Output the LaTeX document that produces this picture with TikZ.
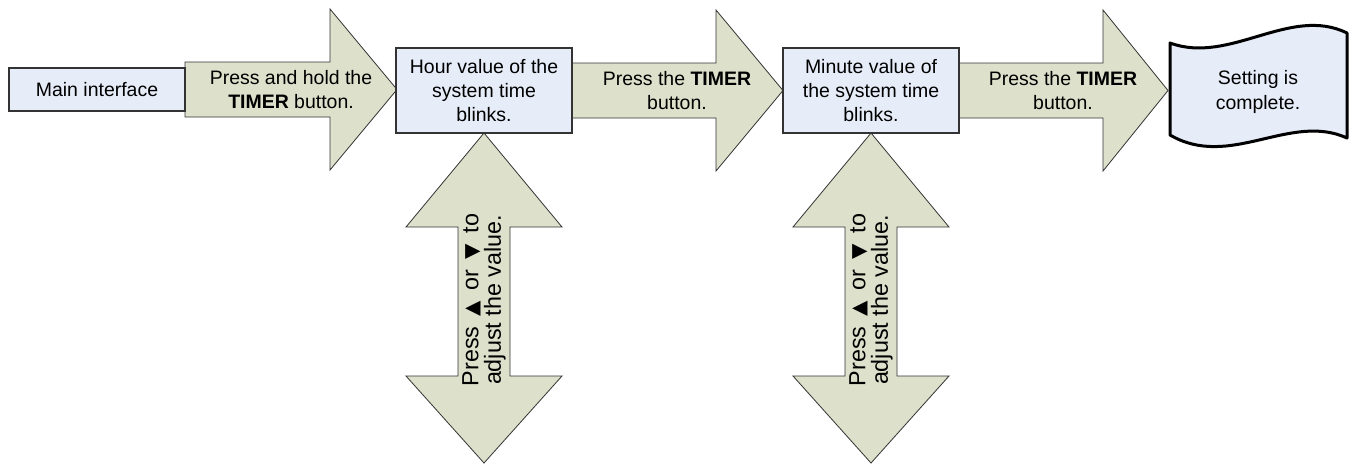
\documentclass[tikz,border=0pt]{standalone}
\usepackage{fontspec}
\setmainfont{Liberation Sans}
\newfontfamily\symfont{DejaVu Sans}
\usepackage{tikz}
\usetikzlibrary{positioning}
\usepackage{xcolor}
\definecolor{boxcolor}{RGB}{230,236,248}
\definecolor{arrowcolor}{RGB}{221,224,203}
\newcommand{\upkey}{\,{\symfont\fontsize{15pt}{15pt}\selectfont ▲}\,}
\newcommand{\downkey}{\,{\symfont\fontsize{15pt}{15pt}\selectfont ▼}\,}

\begin{document}
\begin{tikzpicture}[
    x=0.75pt, y=-0.75pt,
    box/.style={rectangle, draw=black!80, fill=boxcolor, line width=0.8pt, minimum width=132pt, align=center, inner sep=0pt, font=\fontsize{14.6pt}{18.2pt}\selectfont},
    blockarrow/.style={draw=black!80, fill=arrowcolor, line width=0.6pt, line join=miter},
    arrowtext/.style={align=center, inner sep=0pt, font=\fontsize{14.6pt}{18.2pt}\selectfont},
    vtext/.style={align=center, inner sep=0pt, rotate=90, font=\fontsize{17.5pt}{17pt}\selectfont},
]
    \useasboundingbox (0,0) rectangle (1353,465);

    % Block arrows
    \draw[blockarrow] (185,62) -- (330,62) -- (330,9) -- (397,89.5) -- (330,170) -- (330,117) -- (185,117) -- cycle;
    \draw[blockarrow] (572,63) -- (716,63) -- (716,10) -- (783,90.5) -- (716,171) -- (716,118) -- (572,118) -- cycle;
    \draw[blockarrow] (959,63) -- (1103,63) -- (1103,10) -- (1168,90.5) -- (1103,171) -- (1103,118) -- (959,118) -- cycle;
    \draw[blockarrow] (484,133) -- (562,227) -- (510,227) -- (510,376) -- (562,376) -- (484,463) -- (406,376) -- (458,376) -- (458,227) -- (406,227) -- cycle;
    \draw[blockarrow] (871,133) -- (949,227) -- (897,227) -- (897,376) -- (949,376) -- (871,463) -- (793,376) -- (845,376) -- (845,227) -- (793,227) -- cycle;

    % Boxes
    \node[box, minimum height=32.25pt] (main) at (97,89.5) {Main interface};
    \node[box, minimum height=63.75pt] (hour) at (484,90.5) {Hour value of the\\system time\\blinks.};
    \node[box, minimum height=63.75pt] (minute) at (871,90.5) {Minute value of\\the system time\\blinks.};

    % End shape
    \draw[line width=2.25pt, fill=boxcolor, line join=round] (1170,43) .. controls (1230,65) and (1290,5) .. (1347,33) -- (1347,138) .. controls (1290,112) and (1230,170) .. (1170,135) -- cycle;
    \node[arrowtext] (done) at (1258,92) {Setting is\\complete.};

    % Arrow texts
    \node[arrowtext] (hold) at (291,89.5) {Press and hold the\\\textbf{TIMER} button.};
    \node[arrowtext] (nexthour) at (677,90.5) {Press the \textbf{TIMER}\\button.};
    \node[arrowtext] (nextminute) at (1063,90.5) {Press the \textbf{TIMER}\\button.};
    \node[vtext] (adjhour) at (484,300) {Press \upkey{} or \downkey{} to\\adjust the value.};
    \node[vtext] (adjminute) at (871,300) {Press \upkey{} or \downkey{} to\\adjust the value.};
\end{tikzpicture}
\end{document}
